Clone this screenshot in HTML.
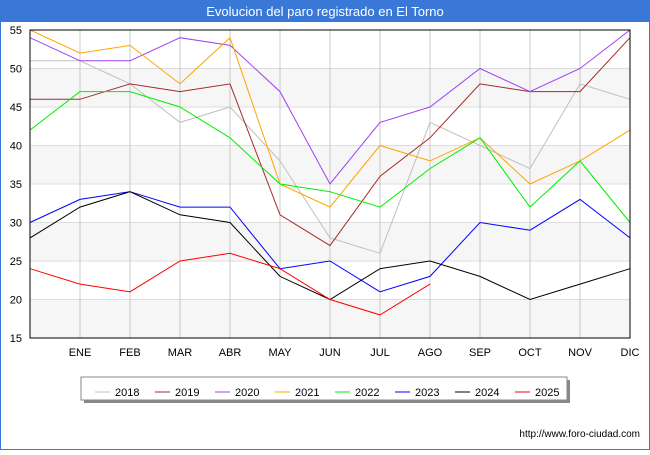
<!DOCTYPE html>
<html><head><meta charset="utf-8"><style>
body{margin:0;width:650px;height:450px;overflow:hidden;background:#fff;font-family:"Liberation Sans","DejaVu Sans",sans-serif}
</style></head><body>
<svg width="650" height="450" xmlns="http://www.w3.org/2000/svg" id="svg">
<rect x="0.5" y="0.5" width="649" height="449" fill="#fff" stroke="#3a78d8"/>
<rect x="0" y="0" width="650" height="22" fill="#3a78d8"/>
<text x="325" y="16" text-anchor="middle" font-size="13" fill="#fff">Evolucion del paro registrado en El Torno</text>
<g id="bands"></g><g id="grid"></g><g id="series"></g>
<rect x="30" y="30" width="600" height="308" fill="none" stroke="#000"/>
<g id="ticks" font-size="11" fill="#000"></g>
<rect x="84" y="380" width="486" height="23" fill="#888"/>
<rect x="81" y="377" width="486" height="23" fill="#fff" stroke="#888"/>
<g id="legend" font-size="11"></g>
<text x="640" y="437" text-anchor="end" font-size="10" fill="#000">http://www.foro-ciudad.com</text>
</svg>
<script>
const months=["","ENE","FEB","MAR","ABR","MAY","JUN","JUL","AGO","SEP","OCT","NOV","DIC"];
const yTicks=[15,20,25,30,35,40,45,50,55];
const years=["2018","2019","2020","2021","2022","2023","2024","2025"];
const colors=["#c0c0c0","#a52a2a","#a040f0","#ffa500","#00ee00","#0000ff","#000000","#ff0000"];
const s2018=[51,51,48,43,45,38,28,26,43,40,37,48,46];
const s2019=[46,46,48,47,48,31,27,36,41,48,47,47,54];
const s2020=[54,51,51,54,53,47,35,43,45,50,47,50,55];
const s2021=[55,52,53,48,54,35,32,40,38,41,35,38,42];
const s2022=[42,47,47,45,41,35,34,32,37,41,32,38,30];
const s2023=[30,33,34,32,32,24,25,21,23,30,29,33,28];
const s2024=[28,32,34,31,30,23,20,24,25,23,20,22,24];
const s2025=[24,22,21,25,26,24,20,18,22];
const series=[s2018,s2019,s2020,s2021,s2022,s2023,s2024,s2025];
const NS="http://www.w3.org/2000/svg";
const X=i=>30+i*50, Y=v=>338-(v-15)*308/40;
function mk(t,a,p){const e=document.createElementNS(NS,t);for(const k in a)e.setAttribute(k,a[k]);document.getElementById(p).appendChild(e);return e;}
for(let v=15;v<55;v+=10){
 const r=mk('rect',{x:30,y:Y(v+5),width:600,height:Y(v)-Y(v+5),fill:'#f6f6f6'},'bands');
 
 
}
yTicks.forEach(v=>{
 const l=mk('line',{x1:30,x2:630,y1:Y(v),y2:Y(v),stroke:'#ddd'},'grid');
 
 
 const t=mk('text',{x:22,y:Y(v)+4,'text-anchor':'end'},'ticks');t.textContent=v;
 
 
});
months.forEach((m,i)=>{
 const l=mk('line',{x1:X(i),x2:X(i),y1:30,y2:338,stroke:'#c8c8c8'},'grid');
 
 
 if(m){const t=mk('text',{x:X(i),y:356,'text-anchor':'middle'},'ticks');t.textContent=m;
 
 }
});
series.forEach((s,k)=>{
 const p=mk('polyline',{points:s.map((v,i)=>X(i)+','+Y(v)).join(' '),fill:'none',stroke:colors[k],'stroke-width':1},'series');
 
 
 const lx=95+k*60;
 const l=mk('line',{x1:lx,x2:lx+15,y1:392,y2:392,stroke:colors[k]},'legend');
 
 
 const t=mk('text',{x:lx+20,y:396},'legend');t.textContent=years[k];
 
 
});
</script>
</body></html>
